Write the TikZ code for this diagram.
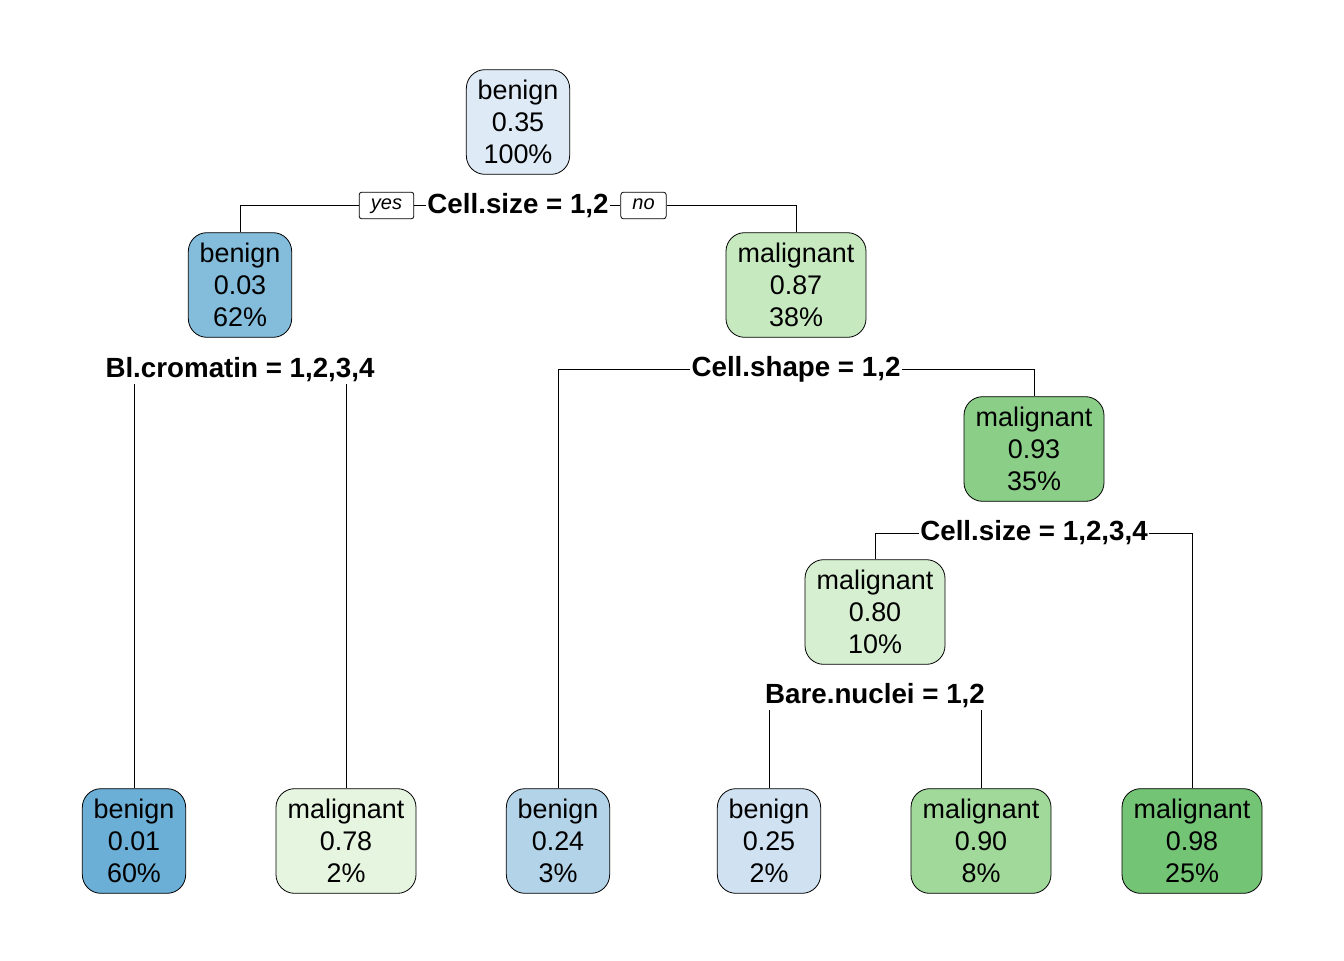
\documentclass[tikz,border=0pt]{standalone}
\usepackage{fontspec}
\setmainfont{Liberation Sans}
\begin{document}
\begin{tikzpicture}[x=0.75pt,y=-0.75pt,
  treebox/.style={draw=black, line width=0.6pt, rounded corners=14pt, align=center,
    font=\fontsize{20.2}{24}\selectfont, inner sep=0pt, minimum height=78.5pt},
  narrow/.style={treebox, minimum width=77.5pt},
  wide/.style={treebox, minimum width=105pt},
  split/.style={font=\fontsize{20.8}{23}\selectfont\bfseries, inner sep=1pt},
  yesno/.style={draw=black, line width=0.6pt, rounded corners=2pt, font=\fontsize{15}{16}\selectfont\itshape,
    inner sep=0pt, minimum height=20pt, text height=8.5pt, text depth=2.5pt},
  edge/.style={draw=black, line width=0.6pt}]
\useasboundingbox (0,0) rectangle (1344,960);

\definecolor{c035}{HTML}{DEEBF7}
\definecolor{c003}{HTML}{84BCDB}
\definecolor{c001}{HTML}{6BAED6}
\definecolor{c024}{HTML}{B3D3E8}
\definecolor{c025}{HTML}{D0E2F2}
\definecolor{c078}{HTML}{E5F5E0}
\definecolor{c080}{HTML}{D6EFD0}
\definecolor{c087}{HTML}{C7E9C0}
\definecolor{c090}{HTML}{A1D99B}
\definecolor{c093}{HTML}{8ACE88}
\definecolor{c098}{HTML}{74C476}

% inner nodes
\node[narrow, fill=c035] (root) at (518,122) {benign\\0.35\\100\%};
\node[narrow, fill=c003] (n2) at (240,285) {benign\\0.03\\62\%};
\node[wide, fill=c087] (n3) at (796,285) {malignant\\0.87\\38\%};
\node[wide, fill=c093] (n7) at (1034,449) {malignant\\0.93\\35\%};
\node[wide, fill=c080] (n14) at (875,612) {malignant\\0.80\\10\%};

% leaves
\node[narrow, fill=c001] (l1) at (134,841) {benign\\0.01\\60\%};
\node[wide, fill=c078] (l2) at (346,841) {malignant\\0.78\\2\%};
\node[narrow, fill=c024] (l3) at (558,841) {benign\\0.24\\3\%};
\node[narrow, fill=c025] (l4) at (769,841) {benign\\0.25\\2\%};
\node[wide, fill=c090] (l5) at (981,841) {malignant\\0.90\\8\%};
\node[wide, fill=c098] (l6) at (1192,841) {malignant\\0.98\\25\%};

% split labels
\node[split] (s1) at (518,206) {Cell.size = 1,2};
\node[yesno, minimum width=41pt] (yes) at (386.5,205.5) {yes};
\node[yesno, minimum width=34pt] (no) at (643.5,205.5) {no};
\node[split] (s2) at (240,370) {Bl.cromatin = 1,2,3,4};
\node[split] (s3) at (796,369) {Cell.shape = 1,2};
\node[split] (s4) at (1034,533) {Cell.size = 1,2,3,4};
\node[split] (s5) at (875,696) {Bare.nuclei = 1,2};

% connectors
\draw[edge] (n2.north) |- (yes.west);
\draw[edge] (yes.east) -- (yes.east -| s1.west);
\draw[edge] (no.west -| s1.east) -- (no.west);
\draw[edge] (no.east) -| (n3.north);

\draw[edge] (l1.north) -- (l1.north |- s2.south);
\draw[edge] (l2.north) -- (l2.north |- s2.south);

\draw[edge] (l3.north) |- (s3.west);
\draw[edge] (s3.east) -| (n7.north);

\draw[edge] (n14.north) |- (s4.west);
\draw[edge] (s4.east) -| (l6.north);

\draw[edge] (l4.north) -- (l4.north |- s5.south);
\draw[edge] (l5.north) -- (l5.north |- s5.south);
\end{tikzpicture}
\end{document}
